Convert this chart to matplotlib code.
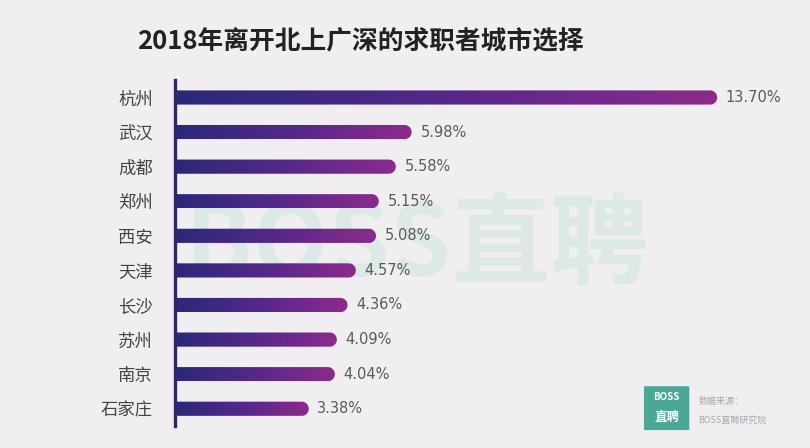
import matplotlib.pyplot as plt
import matplotlib.colors as mcolors
import numpy as np
from matplotlib.path import Path
from matplotlib.patches import PathPatch, FancyBboxPatch

plt.rcParams['font.family'] = ['Noto Sans CJK SC', 'DejaVu Sans']

cities = ['杭州', '武汉', '成都', '郑州', '西安', '天津', '长沙', '苏州', '南京', '石家庄']
shares = [13.70, 5.98, 5.58, 5.15, 5.08, 4.57, 4.36, 4.09, 4.04, 3.38]
value_labels = ['13.70%', '5.98%', '5.58%', '5.15%', '5.08%', '4.57%', '4.36%', '4.09%', '4.04%', '3.38%']
title = '2018年离开北上广深的求职者城市选择'

bg = '#f0eef1'
fig = plt.figure(figsize=(8.1, 4.48), dpi=100, facecolor=bg)
ax = fig.add_axes([0.216, 0.049, 0.75, 0.772])
ax.set_facecolor(bg)

xmax = 15.35
ax.set_xlim(0, xmax)
ax.set_ylim(len(cities) - 0.5, -0.5)

# watermark, below the bars
ax.text(0.515, 0.45, 'BOSS直聘', fontsize=71, fontweight='bold', color='#dde9e7',
        ha='center', va='center', zorder=1, transform=fig.transFigure)

cmap = mcolors.LinearSegmentedColormap.from_list('bar', ['#2b2878', '#55288a', '#8c2b8c'])
grad = np.linspace(0, 1, 256).reshape(1, -1)

# round cap size in x units, matched to bar height in pixels
h = 0.41
ax_w_px = 0.75 * 810
ax_h_px = 0.772 * 448
px_x = ax_w_px / xmax
px_y = ax_h_px / len(cities)
rx = (h / 2) * px_y / px_x

for i, v in enumerate(shares):
    y0, y1 = i - h / 2, i + h / 2
    t = np.linspace(-np.pi / 2, np.pi / 2, 30)
    pts = [(0, y0), (v - rx, y0)]
    pts += [(v - rx + rx * np.cos(a), i + (h / 2) * np.sin(a)) for a in t]
    pts += [(v - rx, y1), (0, y1), (0, y0)]
    codes = [Path.MOVETO] + [Path.LINETO] * (len(pts) - 2) + [Path.CLOSEPOLY]
    patch = PathPatch(Path(pts, codes), facecolor='none', edgecolor='none', transform=ax.transData)
    ax.add_patch(patch)
    im = ax.imshow(grad, cmap=cmap, extent=[0, v, y1, y0], aspect='auto', zorder=2)
    im.set_clip_path(patch)
    ax.text(v + 0.22, i, value_labels[i], va='center', ha='left', fontsize=10.5,
            color='#5a5a5a', family=['DejaVu Sans'], zorder=3)

ax.set_xlim(0, xmax)
ax.set_ylim(len(cities) - 0.5, -0.5)

ax.set_yticks(range(len(cities)))
ax.set_yticklabels(cities, fontsize=12.5, color='#444444')
ax.tick_params(axis='y', length=0, pad=16)
ax.set_xticks([])
for s in ['top', 'right', 'bottom']:
    ax.spines[s].set_visible(False)
ax.spines['left'].set_color('#2a2a68')
ax.spines['left'].set_linewidth(2.4)

fig.text(0.445, 0.907, title, fontsize=18.5, fontweight='bold', color='#222222',
         ha='center', va='center')

# source logo, bottom right
logo = FancyBboxPatch((0.797, 0.042), 0.052, 0.094, boxstyle='round,pad=0.002',
                      transform=fig.transFigure, facecolor='#4ca896', edgecolor='none')
fig.patches.append(logo)
fig.text(0.823, 0.113, 'BOSS', fontsize=7, fontweight='bold', color='white', ha='center', va='center')
fig.text(0.823, 0.068, '直聘', fontsize=9, fontweight='bold', color='white', ha='center', va='center')
fig.text(0.862, 0.103, '数据来源：', fontsize=6.5, color='#a8a8b0', ha='left', va='center')
fig.text(0.862, 0.062, 'BOSS直聘研究院', fontsize=6.5, color='#a8a8b0', ha='left', va='center')

fig.savefig('out.png', dpi=100, facecolor=bg)
